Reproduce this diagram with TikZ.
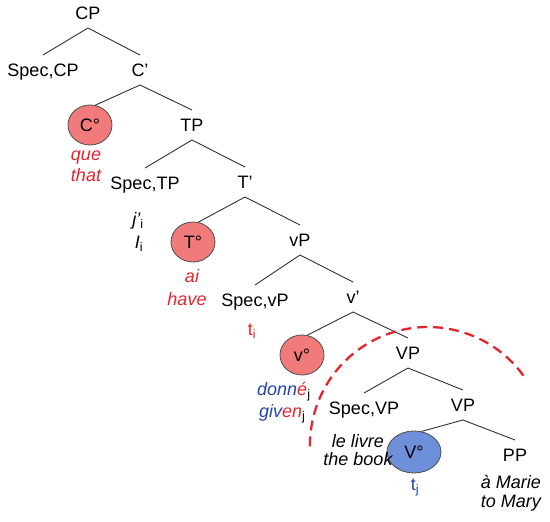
\documentclass[tikz,border=0pt]{standalone}
\usepackage{fontspec}
\setmainfont{Liberation Sans}
\usetikzlibrary{positioning,shapes.geometric}

\definecolor{headred}{HTML}{F17B7B}
\definecolor{headblue}{HTML}{6E8FDA}
\definecolor{glossred}{HTML}{E3262B}
\definecolor{glossblue}{HTML}{2445A8}
\newcommand{\treefont}{\fontsize{18}{21}\selectfont}

\begin{document}
\begin{tikzpicture}[x=1pt,y=-1pt,font=\treefont,
                    cat/.style={inner sep=0pt,outer sep=8.5pt,text height=13pt,text depth=0pt},
                    head/.style={ellipse,draw=black!70,line width=0.8pt,inner sep=0pt,
                                 minimum width=44pt,minimum height=40pt},
                    gloss/.style={inner sep=0pt,anchor=base},
                    word/.style={gloss,font=\treefont\itshape},
                    branch/.style={draw=black!80,line width=0.9pt},
                    cut/.style={draw=glossred,line width=2.3pt,dash pattern=on 10pt off 6pt}]
  \useasboundingbox (0,0) rectangle (550,522);
  % spine of the tree
  \node[cat] (CP) at (88,13) {CP};
  \node[cat] (SpecCP) at (43,70) {Spec,CP};
  \node[cat] (Cbar) at (140,70) {C'};
  \node[head,fill=headred] (Chead) at (90,125) {C°};
  \node[cat] (TP) at (192,125) {TP};
  \node[cat] (SpecTP) at (145,183) {Spec,TP};
  \node[cat] (Tbar) at (245,182) {T'};
  \node[head,fill=headred] (Thead) at (193,242) {T°};
  \node[cat] (vP) at (300,240) {vP};
  \node[cat] (SpecvP) at (255,300) {Spec,vP};
  \node[cat] (vbar) at (353,297) {v'};
  \node[head,fill=headred] (vhead) at (302,355) {v°};
  \node[cat] (VP) at (408,353) {VP};
  \node[cat] (SpecVP) at (364,408) {Spec,VP};
  \node[cat] (VPlow) at (463,405) {VP};
  \node[head,fill=headblue,minimum width=54pt,minimum height=42pt] (Vhead) at (414,452) {V°};
  \node[cat] (PP) at (515,455) {PP};

  \path[branch] (CP.south) edge (SpecCP.north) edge (Cbar.north);
  \path[branch] (Cbar.south) edge (Chead.75) edge (TP.north);
  \path[branch] (TP.south) edge (SpecTP.north) edge (Tbar.north);
  \path[branch] (Tbar.south) edge (Thead.75) edge (vP.north);
  \path[branch] (vP.south) edge (SpecvP.north) edge (vbar.north);
  \path[branch] (vbar.south) edge (vhead.75) edge (VP.north);
  \path[branch] (VP.south) edge (SpecVP.north) edge (VPlow.north);
  \path[branch] (VPlow.south) edge (Vhead.70) edge (PP.north);

  % words and traces
  \node[word,text=glossred] (que) at (86,160) {que};
  \node[word,text=glossred] (that) at (86,181) {that};
  \node[gloss] (je) at (138,225) {{\itshape j'}\textsubscript{i}};
  \node[gloss] (I) at (139,248) {{\itshape I}\textsubscript{i}};
  \node[word,text=glossred] (ai) at (192,282) {ai};
  \node[word,text=glossred] (have) at (187,305) {have};
  \node[gloss,text=glossred] (ti) at (252,335) {t\textsubscript{i}};
  \node[gloss,anchor=base west] (donne) at (257,395)
    {{\itshape\color{glossblue}donn\color{glossred}é}\textsubscript{j}};
  \node[gloss,anchor=base west] (given) at (259,417)
    {{\itshape\color{glossblue}giv\color{glossred}en}\textsubscript{j}};
  \node[word] (livre) at (358,447) {le livre};
  \node[word] (book) at (358,465) {the book};
  \node[gloss,text=glossblue] (tj) at (415,490) {t\textsubscript{j}};
  \node[word] (marie) at (511,488) {à Marie};
  \node[word] (mary) at (511,507) {to Mary};

  % the cut
  \draw[cut] (428,445) ++(-36:118) arc[start angle=-36,end angle=-181,radius=118];
\end{tikzpicture}
\end{document}
